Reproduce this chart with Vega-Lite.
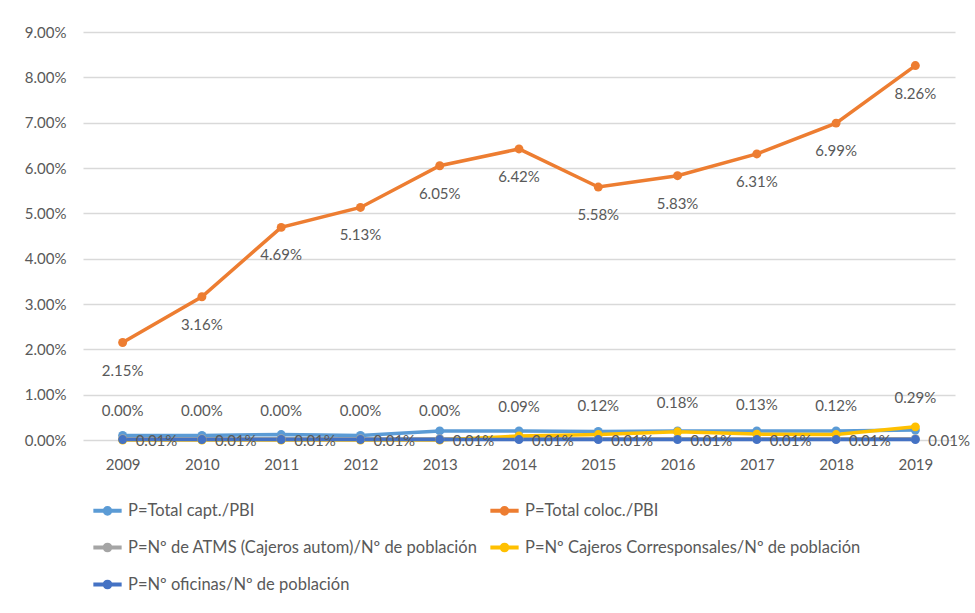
{
  "$schema": "https://vega.github.io/schema/vega-lite/v6.json",
  "width": 872,
  "height": 408,
  "autosize": {"type": "none"},
  "padding": {"left": 83, "top": 32, "right": 20, "bottom": 173},
  "background": "white",
  "config": {
    "font": "Lato",
    "view": {"stroke": null},
    "axis": {"labelColor": "#595959", "labelFontSize": 15, "gridColor": "#D9D9D9", "gridWidth": 1.5, "domain": false, "ticks": false, "title": null}
  },
  "data": {
    "values": [
      {"series": "P=Total capt./PBI", "year": "2009", "value": 0.0010},
      {"series": "P=Total capt./PBI", "year": "2010", "value": 0.0010},
      {"series": "P=Total capt./PBI", "year": "2011", "value": 0.0012},
      {"series": "P=Total capt./PBI", "year": "2012", "value": 0.0010},
      {"series": "P=Total capt./PBI", "year": "2013", "value": 0.0020},
      {"series": "P=Total capt./PBI", "year": "2014", "value": 0.0020},
      {"series": "P=Total capt./PBI", "year": "2015", "value": 0.0019},
      {"series": "P=Total capt./PBI", "year": "2016", "value": 0.0020},
      {"series": "P=Total capt./PBI", "year": "2017", "value": 0.0020},
      {"series": "P=Total capt./PBI", "year": "2018", "value": 0.0020},
      {"series": "P=Total capt./PBI", "year": "2019", "value": 0.0022},
      {"series": "P=Total coloc./PBI", "year": "2009", "value": 0.0215},
      {"series": "P=Total coloc./PBI", "year": "2010", "value": 0.0316},
      {"series": "P=Total coloc./PBI", "year": "2011", "value": 0.0469},
      {"series": "P=Total coloc./PBI", "year": "2012", "value": 0.0513},
      {"series": "P=Total coloc./PBI", "year": "2013", "value": 0.0605},
      {"series": "P=Total coloc./PBI", "year": "2014", "value": 0.0642},
      {"series": "P=Total coloc./PBI", "year": "2015", "value": 0.0558},
      {"series": "P=Total coloc./PBI", "year": "2016", "value": 0.0583},
      {"series": "P=Total coloc./PBI", "year": "2017", "value": 0.0631},
      {"series": "P=Total coloc./PBI", "year": "2018", "value": 0.0699},
      {"series": "P=Total coloc./PBI", "year": "2019", "value": 0.0826},
      {"series": "P=Nº de ATMS (Cajeros autom)/Nº de población", "year": "2009", "value": 0.0003},
      {"series": "P=Nº de ATMS (Cajeros autom)/Nº de población", "year": "2010", "value": 0.0003},
      {"series": "P=Nº de ATMS (Cajeros autom)/Nº de población", "year": "2011", "value": 0.0003},
      {"series": "P=Nº de ATMS (Cajeros autom)/Nº de población", "year": "2012", "value": 0.0003},
      {"series": "P=Nº de ATMS (Cajeros autom)/Nº de población", "year": "2013", "value": 0.0003},
      {"series": "P=Nº de ATMS (Cajeros autom)/Nº de población", "year": "2014", "value": 0.0003},
      {"series": "P=Nº de ATMS (Cajeros autom)/Nº de población", "year": "2015", "value": 0.0003},
      {"series": "P=Nº de ATMS (Cajeros autom)/Nº de población", "year": "2016", "value": 0.0003},
      {"series": "P=Nº de ATMS (Cajeros autom)/Nº de población", "year": "2017", "value": 0.0003},
      {"series": "P=Nº de ATMS (Cajeros autom)/Nº de población", "year": "2018", "value": 0.0003},
      {"series": "P=Nº de ATMS (Cajeros autom)/Nº de población", "year": "2019", "value": 0.0003},
      {"series": "P=Nº Cajeros Corresponsales/Nº de población", "year": "2009", "value": 0.0},
      {"series": "P=Nº Cajeros Corresponsales/Nº de población", "year": "2010", "value": 0.0},
      {"series": "P=Nº Cajeros Corresponsales/Nº de población", "year": "2011", "value": 0.0},
      {"series": "P=Nº Cajeros Corresponsales/Nº de población", "year": "2012", "value": 0.0},
      {"series": "P=Nº Cajeros Corresponsales/Nº de población", "year": "2013", "value": 0.0},
      {"series": "P=Nº Cajeros Corresponsales/Nº de población", "year": "2014", "value": 0.0009},
      {"series": "P=Nº Cajeros Corresponsales/Nº de población", "year": "2015", "value": 0.0012},
      {"series": "P=Nº Cajeros Corresponsales/Nº de población", "year": "2016", "value": 0.0018},
      {"series": "P=Nº Cajeros Corresponsales/Nº de población", "year": "2017", "value": 0.0013},
      {"series": "P=Nº Cajeros Corresponsales/Nº de población", "year": "2018", "value": 0.0012},
      {"series": "P=Nº Cajeros Corresponsales/Nº de población", "year": "2019", "value": 0.0029},
      {"series": "P=Nº oficinas/Nº de población", "year": "2009", "value": 0.0001},
      {"series": "P=Nº oficinas/Nº de población", "year": "2010", "value": 0.0001},
      {"series": "P=Nº oficinas/Nº de población", "year": "2011", "value": 0.0001},
      {"series": "P=Nº oficinas/Nº de población", "year": "2012", "value": 0.0001},
      {"series": "P=Nº oficinas/Nº de población", "year": "2013", "value": 0.0001},
      {"series": "P=Nº oficinas/Nº de población", "year": "2014", "value": 0.0001},
      {"series": "P=Nº oficinas/Nº de población", "year": "2015", "value": 0.0001},
      {"series": "P=Nº oficinas/Nº de población", "year": "2016", "value": 0.0001},
      {"series": "P=Nº oficinas/Nº de población", "year": "2017", "value": 0.0001},
      {"series": "P=Nº oficinas/Nº de población", "year": "2018", "value": 0.0001},
      {"series": "P=Nº oficinas/Nº de población", "year": "2019", "value": 0.0001}
    ]
  },
  "encoding": {
    "x": {"field": "year", "type": "ordinal", "scale": {"type": "point", "padding": 0.5}, "axis": {"labelAngle": 0, "labelPadding": 17, "grid": false}},
    "y": {"field": "value", "type": "quantitative", "scale": {"domain": [0, 0.09]}, "axis": {"format": ".2%", "values": [0, 0.01, 0.02, 0.03, 0.04, 0.05, 0.06, 0.07, 0.08, 0.09], "labelPadding": 17}}
  },
  "layer": [
    {
      "mark": {"type": "line", "strokeWidth": 3.5, "point": {"filled": true, "size": 80}},
      "encoding": {
        "color": {
          "field": "series", "type": "nominal",
          "scale": {
            "domain": ["P=Total capt./PBI", "P=Total coloc./PBI", "P=Nº de ATMS (Cajeros autom)/Nº de población", "P=Nº Cajeros Corresponsales/Nº de población", "P=Nº oficinas/Nº de población"],
            "range": ["#5B9BD5", "#ED7D31", "#A5A5A5", "#FFC000", "#4472C4"]
          },
          "legend": {
            "title": null, "orient": "none", "legendX": 8, "legendY": 462, "columns": 2, "direction": "horizontal",
            "symbolType": "M-1,0L1,0M0.2,0A0.2,0.2,0,1,1,-0.2,0A0.2,0.2,0,1,1,0.2,0Z",
            "symbolStrokeWidth": 4, "symbolSize": 800, "labelFontSize": 16.5, "labelColor": "#595959",
            "labelLimit": 500, "rowPadding": 9, "columnPadding": 4, "labelOffset": 4
          }
        }
      }
    },
    {
      "transform": [{"filter": "datum.series === 'P=Total coloc./PBI'"}],
      "mark": {"type": "text", "dy": 28, "fontSize": 15, "color": "#595959"},
      "encoding": {"text": {"field": "value", "type": "quantitative", "format": ".2%"}}
    },
    {
      "transform": [{"filter": "datum.series === 'P=Nº Cajeros Corresponsales/Nº de población'"}],
      "mark": {"type": "text", "dy": -29, "fontSize": 15, "color": "#595959"},
      "encoding": {"text": {"field": "value", "type": "quantitative", "format": ".2%"}}
    },
    {
      "transform": [{"filter": "datum.series === 'P=Nº oficinas/Nº de población'"}],
      "mark": {"type": "text", "dx": 13, "dy": 1, "align": "left", "fontSize": 15, "color": "#595959"},
      "encoding": {"text": {"field": "value", "type": "quantitative", "format": ".2%"}}
    }
  ]
}
